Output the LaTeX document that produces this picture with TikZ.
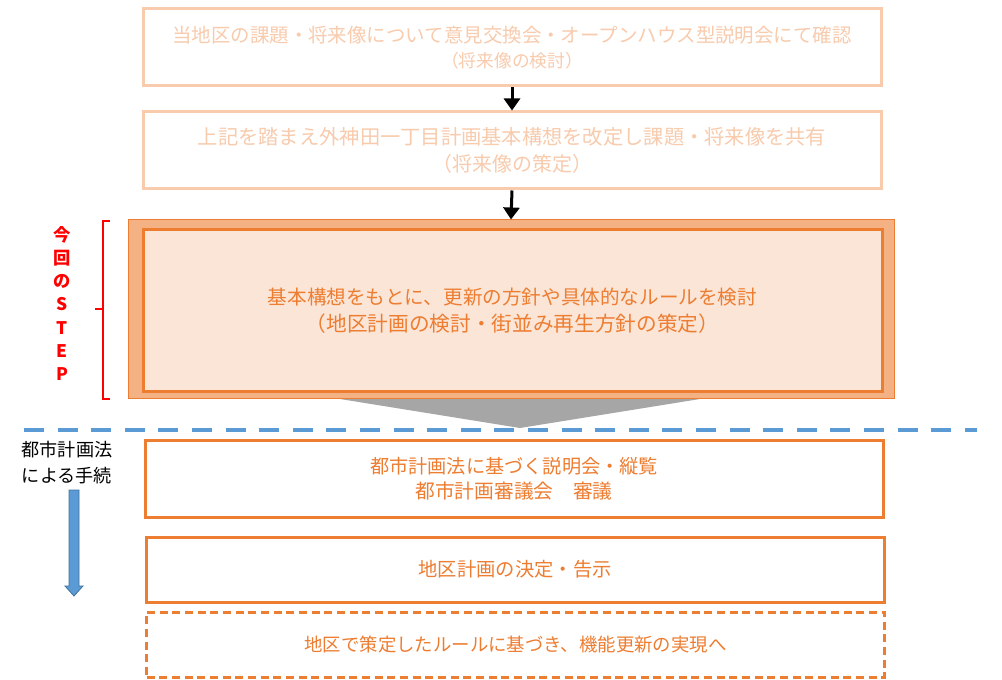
\documentclass[tikz,border=0pt]{standalone}
\usepackage{fontspec}
\setmainfont{Noto Sans CJK JP}
\usetikzlibrary{arrows.meta}
\definecolor{lightor}{HTML}{F8CBAD}
\definecolor{orng}{HTML}{ED7D31}
\definecolor{outerfill}{HTML}{F4B183}
\definecolor{innerfill}{HTML}{FBE5D6}
\definecolor{bluel}{HTML}{5B9BD5}
\definecolor{blued}{HTML}{41719C}
\definecolor{grayt}{HTML}{A6A6A6}
\newcommand\fs[1]{\fontsize{#1}{#1}\selectfont}
\begin{document}
\begin{tikzpicture}[x=0.75pt,y=-0.75pt,
  pastbox/.style={draw=lightor, line width=2.25pt, fill=white, align=center, text=lightor,
     minimum width={738*0.75pt}, inner sep=0pt},
  procbox/.style={draw=orng, line width=2.25pt, fill=white, align=center, text=orng,
     minimum width={738*0.75pt}, inner sep=0pt},
  blackarrow/.style={-{Triangle[width=12pt,length=9pt]}, line width=2.25pt, black},
]
\useasboundingbox (0,0) rectangle (1002,680);

% past steps
\node[pastbox, minimum height={77*0.75pt}] (b1) at (512,47.5)
  {\fs{14.6}当地区の課題・将来像について意見交換会・オープンハウス型説明会にて確認\\[5pt]
   \fs{13.3}（将来像の検討）};
\node[pastbox, minimum height={77*0.75pt}] (b2) at (512,150.5)
  {\fs{15.2}上記を踏まえ外神田一丁目計画基本構想を改定し課題・将来像を共有\\[5pt]
   \fs{15}（将来像の策定）};

% gray funnel
\fill[grayt] (340,399) -- (700,399) -- (520,428) -- cycle;

% current step
\node[draw=orng, line width=0.75pt, fill=outerfill, minimum width={766*0.75pt},
      minimum height={179*0.75pt}, inner sep=0pt] (outer) at (511,309.5) {};
\node[draw=orng, line width=2.25pt, fill=innerfill, minimum width={739*0.75pt},
      minimum height={162*0.75pt}, align=center, text=orng, inner sep=0pt] (cur) at (512.5,311)
  {\fs{14.7}基本構想をもとに、更新の方針や具体的なルールを検討\\[5pt]
   \fs{15.5}（地区計画の検討・街並み再生方針の策定）};

\draw[blackarrow] (b1.south) -- (b2.north);
\draw[blackarrow] (b2.south) -- (outer.north);

% bracket and label
\draw[red, line width=1.5pt] (110,221) -- (103,221) -- (103,399) -- (110,399);
\coordinate (tickA) at (103,309);
\coordinate (tickB) at (95,309);
\draw[red, line width=1.5pt] (tickA) -- (tickB);
\node[text=red, font=\bfseries\fs{13}, align=center, inner sep=0pt] (step) at (62,303.5)
  {今\\[4.3pt]回\\[4.3pt]の\\[4.3pt]S\\[4.3pt]T\\[4.3pt]E\\[4.3pt]P};

% dashed divider
\coordinate (dl) at (24,430);
\coordinate (dr) at (977,430);
\draw[bluel, line width=3pt, dash pattern=on 15pt off 10.2pt] (dl) -- (dr);

% procedure
\node[align=center, font=\fs{13.6}, inner sep=0pt] (law) at (67,463)
  {都市計画法\\[6pt]による手続};
\filldraw[fill=bluel, draw=blued, line width=0.6pt]
  (69,490) -- (79,490) -- (79,586) -- (83,586) -- (74,596) -- (65,586) -- (69,586) -- cycle;

\node[procbox, minimum height={77*0.75pt}] (p1) at (514,478.5)
  {\fs{14.4}都市計画法に基づく説明会・縦覧\\[4pt]
   \fs{14.8}都市計画審議会　審議};
\node[procbox, minimum height={65*0.75pt}] (p2) at (515,569.5)
  {\fs{14.5}地区計画の決定・告示};
\node[procbox, dash pattern=on 6pt off 3.5pt, minimum height={65*0.75pt}] (p3) at (515.5,644.5)
  {\fs{13.8}地区で策定したルールに基づき、機能更新の実現へ};
\end{tikzpicture}
\end{document}
